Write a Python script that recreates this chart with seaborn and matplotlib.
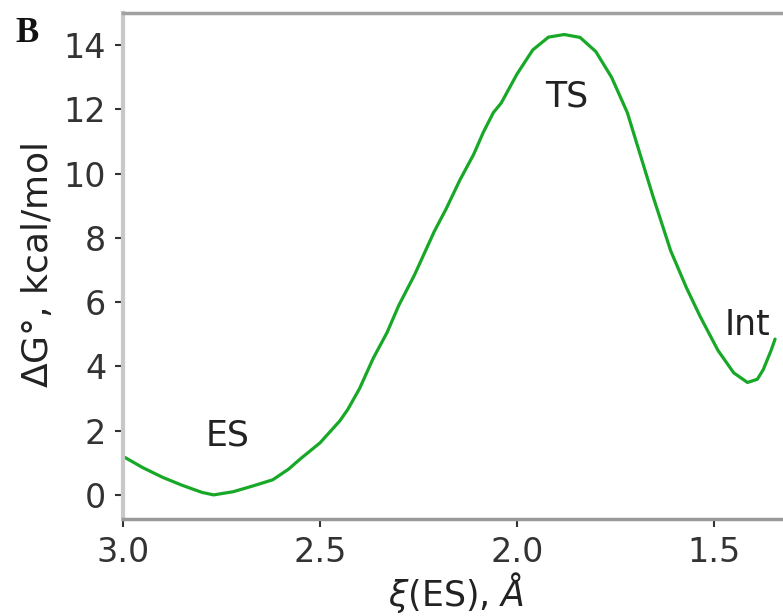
import matplotlib
matplotlib.use('Agg')
import matplotlib.pyplot as plt
import seaborn as sns
import pandas as pd

# reaction coordinate (A) and free energy (kcal/mol)
xi = [3.00, 2.95, 2.90, 2.85, 2.80, 2.77, 2.72, 2.67, 2.62, 2.58, 2.55, 2.50,
      2.45, 2.43, 2.40, 2.365, 2.33, 2.30, 2.26, 2.21, 2.18, 2.145, 2.11, 2.085,
      2.06, 2.04, 2.00, 1.96, 1.92, 1.88, 1.84, 1.80, 1.76, 1.72, 1.69, 1.655,
      1.61, 1.57, 1.535, 1.49, 1.45, 1.415, 1.39, 1.375, 1.355, 1.345]
dG = [1.20, 0.85, 0.55, 0.30, 0.08, 0.00, 0.10, 0.28, 0.47, 0.80, 1.12, 1.62,
      2.30, 2.65, 3.30, 4.25, 5.05, 5.90, 6.85, 8.20, 8.90, 9.80, 10.60, 11.30,
      11.90, 12.20, 13.10, 13.85, 14.25, 14.33, 14.24, 13.80, 13.00, 11.90, 10.70, 9.30,
      7.60, 6.45, 5.55, 4.50, 3.80, 3.50, 3.60, 3.90, 4.50, 4.85]

# state labels and where they sit
states = ['ES', 'TS', 'Int']
state_x = [2.735, 1.875, 1.415]
state_y = [1.85, 12.4, 5.3]

df = pd.DataFrame({'xi': xi, 'dG': dG})

sns.set_style('ticks')
plt.rcParams['font.family'] = ['DejaVu Sans']
plt.rcParams['mathtext.fontset'] = 'dejavusans'

fig = plt.figure(figsize=(7.83, 6.16), dpi=100)
ax = fig.add_axes([123/783, 1 - 519/616, 667/783, (519 - 13)/616])

sns.lineplot(data=df, x='xi', y='dG', ax=ax, color='#17a827', linewidth=2.3,
             estimator=None, sort=False)

ax.set_xlim(3.0, 3.0 - 667/394)
ax.set_ylim(-0.75, 15.0)
ax.set_xticks([3.0, 2.5, 2.0, 1.5])
ax.set_yticks([0, 2, 4, 6, 8, 10, 12, 14])

for s, x, y in zip(states, state_x, state_y):
    ax.text(x, y, s, fontsize=25, color='#222222', ha='center', va='center')

ax.set_xlabel(r'$\xi$(ES), $\AA$', fontsize=25, color='#222222', labelpad=1)
ax.set_ylabel(r'$\Delta$G$\degree$, kcal/mol', fontsize=26, color='#222222', labelpad=6)
ax.tick_params(labelsize=24, colors='#333333', length=6, width=1.5, pad=6)

ax.spines['left'].set_color('#c8c8c8')
ax.spines['left'].set_linewidth(3)
ax.spines['bottom'].set_color('#999999')
ax.spines['bottom'].set_linewidth(2.5)
ax.spines['top'].set_visible(True)
ax.spines['top'].set_color('#a0a0a0')
ax.spines['top'].set_linewidth(2.5)
ax.spines['right'].set_visible(False)

fig.text(27/783, 1 - 34/616, 'B', fontsize=25, fontweight='bold',
         family='Liberation Serif', ha='center', va='center', color='#111111')

fig.savefig('out.png', dpi=100)
